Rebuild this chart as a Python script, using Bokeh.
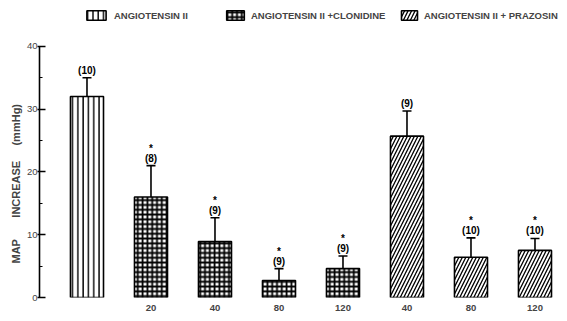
from bokeh.plotting import figure
from bokeh.models import (ColumnDataSource, Whisker, TeeHead, Legend, LegendItem,
                          FixedTicker, Range1d, Title)
from bokeh.core.properties import value
from bokeh.embed import file_html
from bokeh.resources import INLINE

# ---- data ----
positions = [0, 1, 2, 3, 4, 5, 6, 7]
tick_labels = ["", "20", "40", "80", "120", "40", "80", "120"]
groups = ["ANGIOTENSIN II", "ANGIOTENSIN II + CLONIDINE", "ANGIOTENSIN II + CLONIDINE",
          "ANGIOTENSIN II + CLONIDINE", "ANGIOTENSIN II + CLONIDINE",
          "ANGIOTENSIN II + PRAZOSIN", "ANGIOTENSIN II + PRAZOSIN", "ANGIOTENSIN II + PRAZOSIN"]
map_increase = [32.0, 16.0, 8.9, 2.7, 4.6, 25.7, 6.4, 7.5]
sem = [3.0, 5.0, 3.8, 1.9, 2.0, 4.0, 3.1, 1.9]
n_animals = [10, 8, 9, 9, 9, 9, 10, 10]
significant = [False, True, True, True, True, False, True, True]

legend_labels = ["ANGIOTENSIN II", "ANGIOTENSIN II + CLONIDINE", "ANGIOTENSIN II + PRAZOSIN"]
legend_texts = ["ANGIOTENSIN II", "ANGIOTENSIN II +CLONIDINE", "ANGIOTENSIN II + PRAZOSIN"]
hatches = ["vertical_line", "cross", "right_diagonal_line"]
hatch_scales = [5.3, 4.8, 7.0]
hatch_weights = [1.4, 1.8, 1.3]

y_ticks = [0, 10, 20, 30, 40]
y_minor = [5, 15, 25, 35]

FONT = "Liberation Sans"
NB = "\u00a0"

err_top = [v + s for v, s in zip(map_increase, sem)]
n_text = ["(%d)" % n for n in n_animals]
star_text = ["*" if s else "" for s in significant]

p = figure(width=559, height=313, output_backend="svg", toolbar_location=None,
           x_range=Range1d(-0.742, 7.383), y_range=Range1d(0, 47.3),
           min_border_left=39, min_border_right=0, min_border_top=0, min_border_bottom=15)
p.outline_line_color = None
p.xgrid.visible = False
p.ygrid.visible = False
p.background_fill_color = "white"

renderers = []
for gname, h, hs, hw in zip(legend_labels, hatches, hatch_scales, hatch_weights):
    idx = [i for i, g in enumerate(groups) if g == gname]
    src = ColumnDataSource(dict(x=[positions[i] for i in idx],
                                top=[map_increase[i] for i in idx]))
    r = p.vbar(x="x", top="top", bottom=0, width=0.516, source=src,
               fill_color="white", line_color="black", line_width=1.6,
               hatch_pattern=h, hatch_scale=hs, hatch_weight=hw, hatch_color="black")
    renderers.append(r)

src_all = ColumnDataSource(dict(x=positions, top=map_increase, err=err_top,
                                ntxt=n_text, star=star_text))
w = Whisker(source=src_all, base="x", lower="top", upper="err", dimension="height",
            line_color="black", line_width=1.6, lower_head=None,
            upper_head=TeeHead(size=9, line_width=1.6, line_color="black"))
p.add_layout(w)

p.text(x="x", y="err", text="ntxt", source=src_all, text_align="center",
       text_baseline="bottom", y_offset=-2, text_font=value(FONT),
       text_font_size="10px", text_font_style="bold", text_color="black")
p.text(x="x", y="err", text="star", source=src_all, text_align="center",
       text_baseline="bottom", y_offset=-12, text_font=value(FONT),
       text_font_size="10px", text_font_style="bold", text_color="black")

# y axis
ya = p.yaxis[0]
ya.bounds = (y_ticks[0], y_ticks[-1])
ya.ticker = FixedTicker(ticks=y_ticks, minor_ticks=y_minor)
ya.axis_line_width = 1.6
ya.major_tick_in = 6
ya.major_tick_out = 2
ya.minor_tick_in = 3
ya.minor_tick_out = 0
ya.major_tick_line_width = 1.4
ya.minor_tick_line_width = 1.2
ya.major_label_standoff = 0
ya.major_label_text_font = FONT
ya.major_label_text_font_size = "9.5px"

# y axis title, positioned along the axis's 0-40 span
ytitle = Title(text="MAP" + NB * 7 + "INCREASE" + NB * 5 + "(mmHg)", align="left",
               offset=34, text_font=FONT, text_font_size="11px", text_font_style="bold",
               standoff=4)
p.add_layout(ytitle, "left")

# x axis
xa = p.xaxis[0]
xa.ticker = FixedTicker(ticks=positions[1:])
xa.major_label_overrides = {pos: lab for pos, lab in zip(positions, tick_labels) if lab}
xa.axis_line_color = None
xa.major_tick_line_color = None
xa.minor_tick_line_color = None
xa.major_label_standoff = 1
xa.major_label_text_font = FONT
xa.major_label_text_font_size = "9.5px"
xa.major_label_text_font_style = "bold"

# legends (three separate boxes at the top of the frame)
legend_x = [45, 185, 360]
legend_glyph_w = [24, 22, 20]
legend_standoff = [6, 5, 5]
for r, txt, lx, gw, ls in zip(renderers, legend_texts, legend_x, legend_glyph_w, legend_standoff):
    lg = Legend(items=[LegendItem(label=txt, renderers=[r])], location=(lx, 276),
                orientation="horizontal", glyph_width=gw, glyph_height=12,
                label_height=12, label_standoff=ls, padding=0, margin=0,
                border_line_color=None, background_fill_alpha=0,
                label_text_font=FONT, label_text_font_size="9.5px",
                label_text_font_style="bold")
    p.add_layout(lg, "center")

open("out.html", "w").write(file_html(p, INLINE))
